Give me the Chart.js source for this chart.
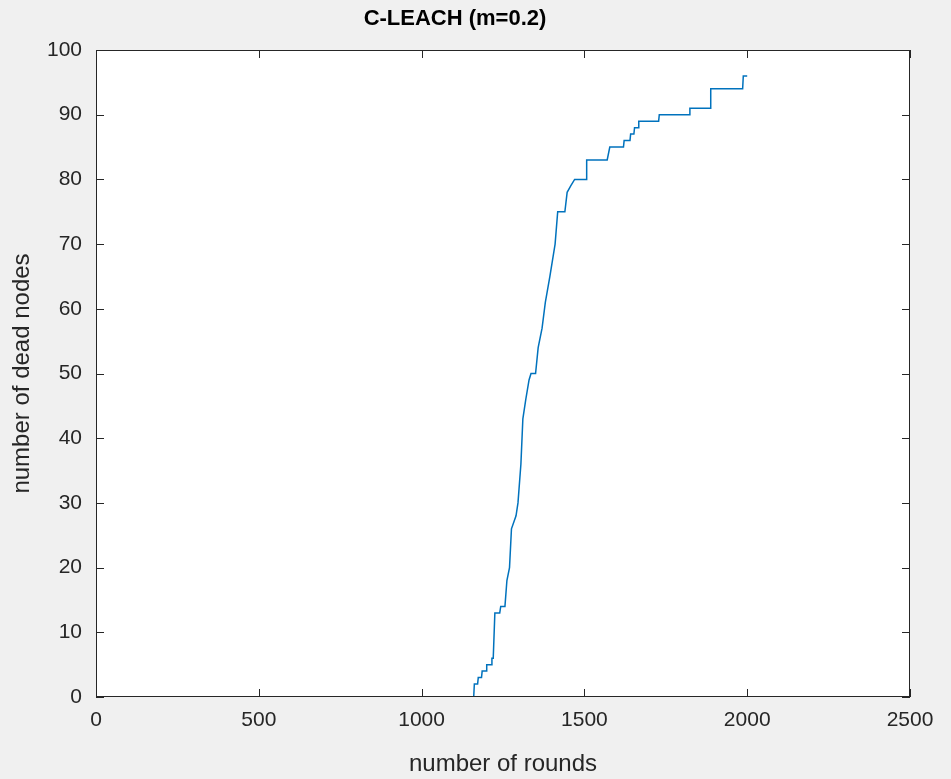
<!DOCTYPE html>
<html>
<head>
<meta charset="utf-8">
<script src="https://cdn.jsdelivr.net/npm/chart.js@4/dist/chart.umd.min.js"></script>
<style>
  html, body { margin: 0; padding: 0; background: #f0f0f0; }
  #c { display: block; }
</style>
</head>
<body>
<canvas id="c" width="951" height="779"></canvas>
<script>
// ---- data ----
const rounds = [0, 1160, 1162, 1172, 1174, 1184, 1186, 1198, 1200, 1214, 1216, 1220, 1225, 1240, 1243, 1256,
  1262, 1270, 1276, 1290, 1296, 1305, 1311, 1320, 1330, 1336, 1350, 1358, 1370, 1380, 1394, 1410, 1418, 1440,
  1447, 1458, 1470, 1505, 1507, 1570, 1578, 1620, 1622, 1640, 1642, 1652, 1654, 1665, 1667, 1728, 1730, 1822,
  1824, 1886, 1888, 1986, 1988, 2000];
const deadNodes = [0, 0, 2, 2, 3, 3, 4, 4, 5, 5, 6, 6, 13, 13, 14, 14,
  18, 20, 26, 28, 30, 36, 43, 46, 49, 50, 50, 54, 57, 61, 65, 70, 75, 75,
  78, 79, 80, 80, 83, 83, 85, 85, 86, 86, 87, 87, 88, 88, 89, 89, 90, 90,
  91, 91, 94, 94, 96, 96];
const xTicks = [0, 500, 1000, 1500, 2000, 2500];
const yTicks = [0, 10, 20, 30, 40, 50, 60, 70, 80, 90, 100];
const titleText = 'C-LEACH (m=0.2)';
const xLabel = 'number of rounds';
const yLabel = 'number of dead nodes';

const points = rounds.map((r, i) => ({ x: r, y: deadNodes[i] }));
const axisColor = '#262626';
const fontFam = '"Liberation Sans", Arial, Helvetica, sans-serif';

const boxPlugin = {
  id: 'matlabBox',
  beforeDraw(chart) {
    const { ctx, chartArea: a } = chart;
    ctx.save();
    ctx.fillStyle = '#ffffff';
    ctx.fillRect(a.left, a.top, a.right - a.left, a.bottom - a.top);
    ctx.restore();
  },
  afterDraw(chart) {
    const { ctx, chartArea: a, scales } = chart;
    ctx.save();
    ctx.strokeStyle = axisColor;
    ctx.lineWidth = 1;
    ctx.strokeRect(Math.round(a.left) + 0.5, Math.round(a.top) + 0.5,
      Math.round(a.right - a.left) - 1, Math.round(a.bottom - a.top) - 1);
    const tl = 8;
    ctx.beginPath();
    xTicks.forEach(v => {
      const px = Math.round(scales.x.getPixelForValue(v)) + 0.5;
      ctx.moveTo(px, a.bottom); ctx.lineTo(px, a.bottom - tl);
      ctx.moveTo(px, a.top); ctx.lineTo(px, a.top + tl);
    });
    yTicks.forEach(v => {
      const py = Math.round(scales.y.getPixelForValue(v)) + 0.5;
      ctx.moveTo(a.left, py); ctx.lineTo(a.left + tl, py);
      ctx.moveTo(a.right, py); ctx.lineTo(a.right - tl, py);
    });
    ctx.stroke();
    ctx.restore();
  }
};

new Chart(document.getElementById('c'), {
  type: 'line',
  data: {
    datasets: [{
      data: points,
      borderColor: '#0072bd',
      borderWidth: 1.5,
      pointRadius: 0,
      tension: 0,
      fill: false
    }]
  },
  options: {
    responsive: false,
    animation: false,
    layout: { padding: { left: 0, right: 41, top: 0, bottom: 0 } },
    plugins: {
      legend: { display: false },
      tooltip: { enabled: false },
      title: {
        display: true,
        text: titleText,
        color: '#000000',
        font: { family: fontFam, size: 22, weight: 'bold', lineHeight: 1.2 },
        padding: { top: 6, bottom: 17.6 }
      }
    },
    scales: {
      x: {
        type: 'linear',
        min: 0, max: 2500,
        afterBuildTicks(scale) { scale.ticks = xTicks.map(v => ({ value: v })); },
        afterFit(scale) { scale.height = 82; },
        grid: { display: false },
        border: { display: false },
        ticks: { color: axisColor, padding: 3, font: { family: fontFam, size: 21 }, maxRotation: 0, autoSkip: false,
          callback: v => String(v) },
        title: { display: true, text: xLabel, color: axisColor, font: { family: fontFam, size: 24 }, padding: { top: 0, bottom: 0 } }
      },
      y: {
        type: 'linear',
        min: 0, max: 100,
        afterBuildTicks(scale) { scale.ticks = yTicks.map(v => ({ value: v })); },
        afterFit(scale) { scale.width = 96; },
        grid: { display: false },
        border: { display: false },
        ticks: { color: axisColor, padding: 6, font: { family: fontFam, size: 21 }, autoSkip: false,
          callback: v => String(v) },
        title: { display: true, text: yLabel, color: axisColor, font: { family: fontFam, size: 24 }, padding: { top: 8, bottom: 0 } }
      }
    }
  },
  plugins: [boxPlugin]
});
</script>
</body>
</html>
